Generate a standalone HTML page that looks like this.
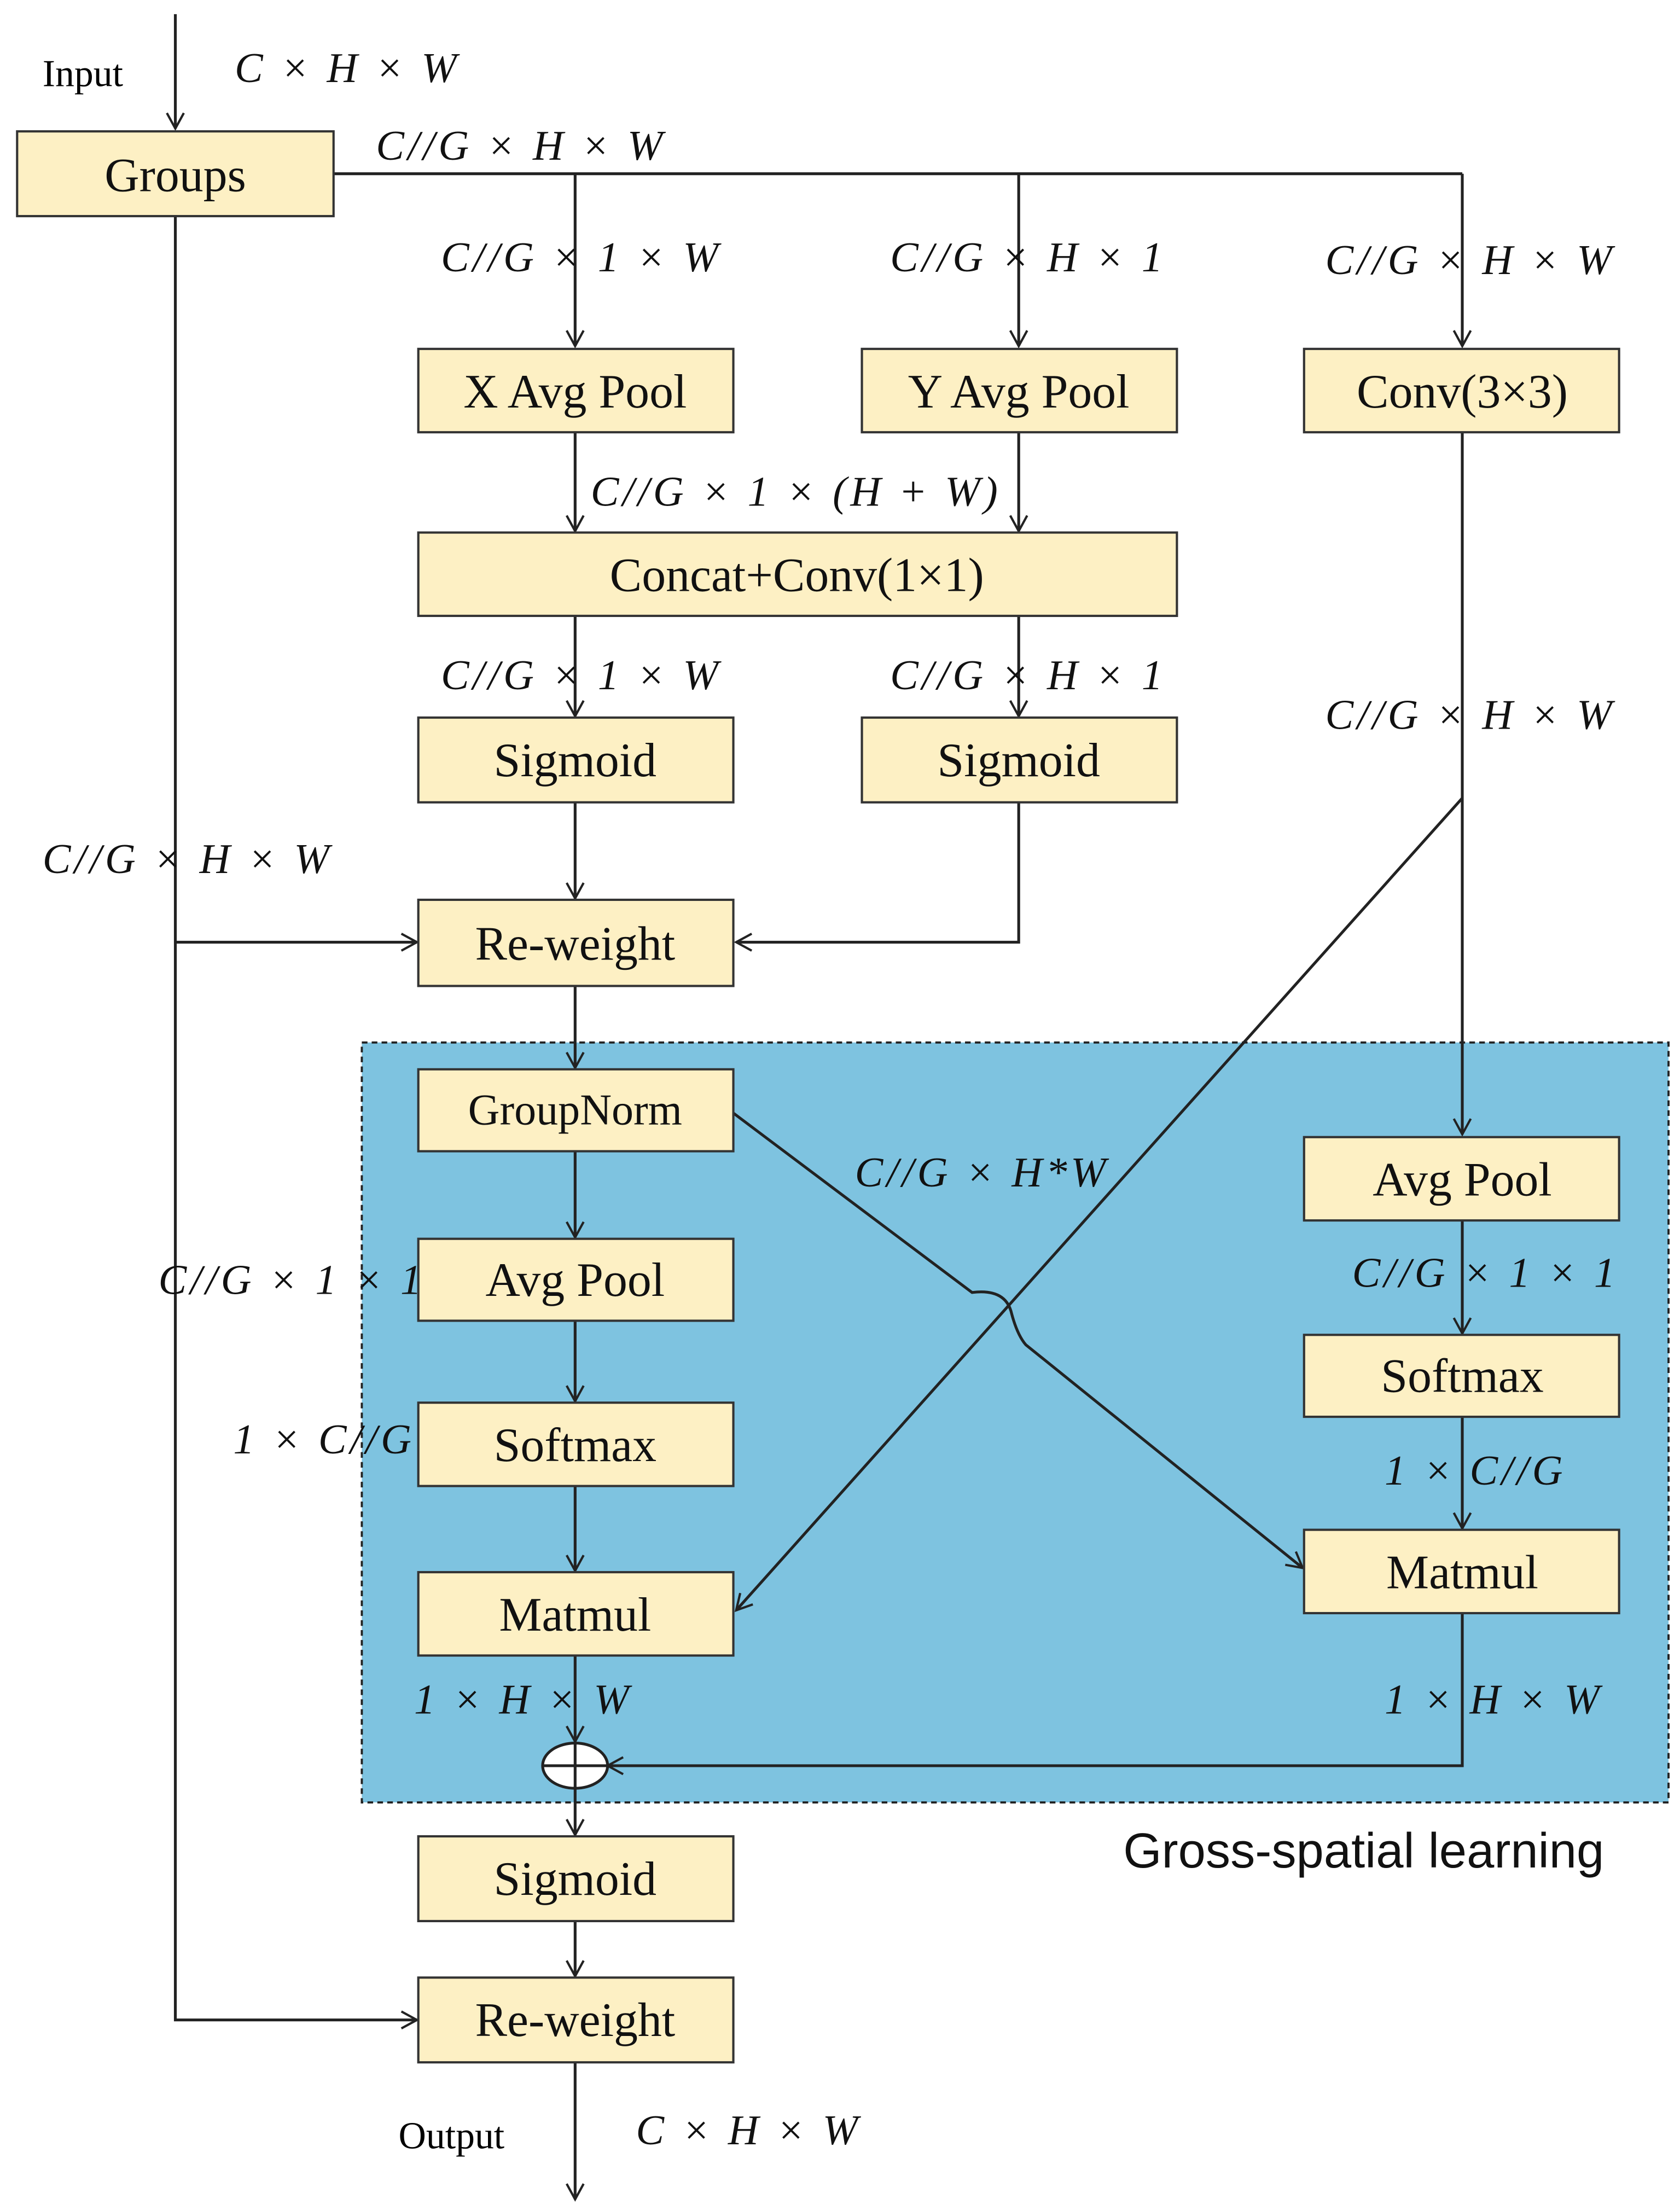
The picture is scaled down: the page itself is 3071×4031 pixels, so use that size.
<!DOCTYPE html>
<html><head><meta charset="utf-8"><style>
html,body{margin:0;padding:0;background:#fff;}
svg{display:block;}
.b{fill:#fdf0c4;stroke:#333;stroke-width:1.6;}
.t{font-family:"Liberation Serif",serif;font-size:34px;fill:#111;text-anchor:middle;dominant-baseline:central;}
.m{font-family:"Liberation Serif",serif;font-style:italic;font-size:30px;fill:#111;letter-spacing:2.5px;}
.l{stroke:#222;stroke-width:2;fill:none;}
</style></head><body>
<svg width="3071" height="4031" viewBox="0 0 1189 1561" xmlns="http://www.w3.org/2000/svg">
<defs><marker id="a" markerWidth="14" markerHeight="14" refX="12" refY="7" orient="auto" markerUnits="userSpaceOnUse"><path d="M1,1 L12,7 L1,13" fill="none" stroke="#222" stroke-width="1.6"/></marker></defs>
<rect x="256" y="738" width="925" height="538" fill="#7ec3e0" stroke="#222" stroke-width="1.5" stroke-dasharray="4,3"/>
<line class="l" x1="124" y1="10" x2="124" y2="91" marker-end="url(#a)"/>
<polyline class="l" points="236,123 1035,123"/>
<line class="l" x1="407" y1="123" x2="407" y2="245" marker-end="url(#a)"/>
<line class="l" x1="721" y1="123" x2="721" y2="245" marker-end="url(#a)"/>
<line class="l" x1="1035" y1="123" x2="1035" y2="245" marker-end="url(#a)"/>
<line class="l" x1="407" y1="306" x2="407" y2="376" marker-end="url(#a)"/>
<line class="l" x1="721" y1="306" x2="721" y2="376" marker-end="url(#a)"/>
<line class="l" x1="407" y1="436" x2="407" y2="507" marker-end="url(#a)"/>
<line class="l" x1="721" y1="436" x2="721" y2="507" marker-end="url(#a)"/>
<line class="l" x1="407" y1="568" x2="407" y2="636" marker-end="url(#a)"/>
<polyline class="l" points="721,568 721,667 521,667" marker-end="url(#a)"/>
<polyline class="l" points="124,153 124,1430 295,1430" marker-end="url(#a)"/>
<line class="l" x1="124" y1="667" x2="295" y2="667" marker-end="url(#a)"/>
<line class="l" x1="1035" y1="306" x2="1035" y2="803" marker-end="url(#a)"/>
<line class="l" x1="1035" y1="565" x2="521" y2="1140" marker-end="url(#a)"/>
<line class="l" x1="407" y1="698" x2="407" y2="756" marker-end="url(#a)"/>
<line class="l" x1="407" y1="815" x2="407" y2="876" marker-end="url(#a)"/>
<line class="l" x1="407" y1="935" x2="407" y2="992" marker-end="url(#a)"/>
<line class="l" x1="407" y1="1052" x2="407" y2="1112" marker-end="url(#a)"/>
<line class="l" x1="407" y1="1172" x2="407" y2="1233" marker-end="url(#a)"/>
<path class="l" d="M519,788 L688,915 Q712,912 716,930 Q720,945 726,952 L922,1110" marker-end="url(#a)"/>
<line class="l" x1="1035" y1="864" x2="1035" y2="944" marker-end="url(#a)"/>
<line class="l" x1="1035" y1="1003" x2="1035" y2="1082" marker-end="url(#a)"/>
<polyline class="l" points="1035,1142 1035,1250 430,1250" marker-end="url(#a)"/>
<line class="l" x1="407" y1="1266" x2="407" y2="1299" marker-end="url(#a)"/>
<line class="l" x1="407" y1="1360" x2="407" y2="1399" marker-end="url(#a)"/>
<line class="l" x1="407" y1="1460" x2="407" y2="1557" marker-end="url(#a)"/>
<ellipse cx="407" cy="1250" rx="23" ry="16" fill="#fff" stroke="#222" stroke-width="2"/>
<line class="l" x1="384" y1="1250" x2="430" y2="1250"/><line class="l" x1="407" y1="1234" x2="407" y2="1266"/>
<rect class="b" x="12" y="93" width="224" height="60"/><text class="t" x="124" y="124">Groups</text>
<rect class="b" x="296" y="247" width="223" height="59"/><text class="t" x="407" y="277">X Avg Pool</text>
<rect class="b" x="610" y="247" width="223" height="59"/><text class="t" x="721" y="277">Y Avg Pool</text>
<rect class="b" x="923" y="247" width="223" height="59"/><text class="t" x="1035" y="277">Conv(3×3)</text>
<rect class="b" x="296" y="377" width="537" height="59"/><text class="t" x="564" y="407">Concat+Conv(1×1)</text>
<rect class="b" x="296" y="508" width="223" height="60"/><text class="t" x="407" y="538">Sigmoid</text>
<rect class="b" x="610" y="508" width="223" height="60"/><text class="t" x="721" y="538">Sigmoid</text>
<rect class="b" x="296" y="637" width="223" height="61"/><text class="t" x="407" y="668">Re-weight</text>
<rect class="b" x="296" y="757" width="223" height="58"/><text class="t" x="407" y="786" style="font-size:31px">GroupNorm</text>
<rect class="b" x="296" y="877" width="223" height="58"/><text class="t" x="407" y="906">Avg Pool</text>
<rect class="b" x="296" y="993" width="223" height="59"/><text class="t" x="407" y="1023">Softmax</text>
<rect class="b" x="296" y="1113" width="223" height="59"/><text class="t" x="407" y="1143">Matmul</text>
<rect class="b" x="923" y="805" width="223" height="59"/><text class="t" x="1035" y="835">Avg Pool</text>
<rect class="b" x="923" y="945" width="223" height="58"/><text class="t" x="1035" y="974">Softmax</text>
<rect class="b" x="923" y="1083" width="223" height="59"/><text class="t" x="1035" y="1113">Matmul</text>
<rect class="b" x="296" y="1300" width="223" height="60"/><text class="t" x="407" y="1330">Sigmoid</text>
<rect class="b" x="296" y="1400" width="223" height="60"/><text class="t" x="407" y="1430">Re-weight</text>
<text x="30" y="61" style="font-family:'Liberation Serif',serif;font-size:27px">Input</text>
<text class="m" x="166" y="58">C × H × W</text>
<text class="m" x="266" y="113">C//G × H × W</text>
<text class="m" x="312" y="192">C//G × 1 × W</text>
<text class="m" x="630" y="192">C//G × H × 1</text>
<text class="m" x="938" y="194">C//G × H × W</text>
<text class="m" x="418" y="358">C//G × 1 × (H + W)</text>
<text class="m" x="312" y="488">C//G × 1 × W</text>
<text class="m" x="630" y="488">C//G × H × 1</text>
<text class="m" x="938" y="516">C//G × H × W</text>
<text class="m" x="30" y="618">C//G × H × W</text>
<text class="m" x="605" y="840">C//G × H*W</text>
<text class="m" x="112" y="916">C//G × 1 × 1</text>
<text class="m" x="165" y="1029">1 × C//G</text>
<text class="m" x="957" y="911">C//G × 1 × 1</text>
<text class="m" x="980" y="1051">1 × C//G</text>
<text class="m" x="293" y="1213">1 × H × W</text>
<text class="m" x="980" y="1213">1 × H × W</text>
<text x="795" y="1322" style="font-family:'Liberation Sans',sans-serif;font-size:35px;fill:#111">Gross-spatial learning</text>
<text x="282" y="1521" style="font-family:'Liberation Serif',serif;font-size:27px">Output</text>
<text class="m" x="450" y="1518">C × H × W</text>
</svg>
</body></html>
